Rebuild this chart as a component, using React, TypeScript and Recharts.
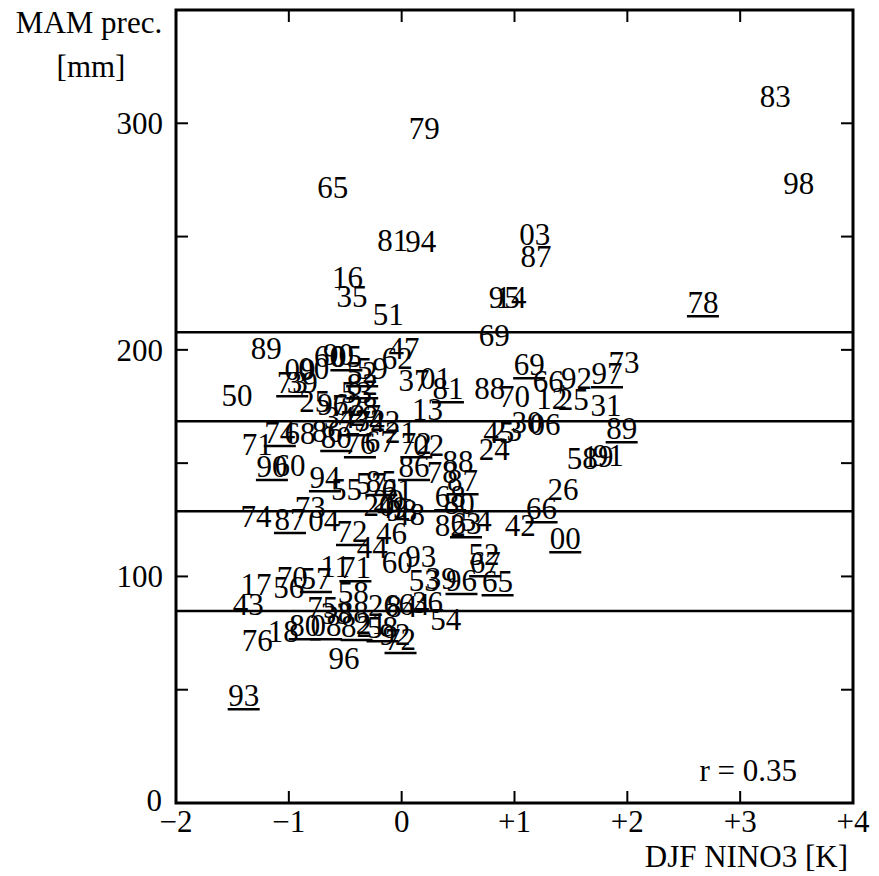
import { ScatterChart, Scatter, XAxis, YAxis, ReferenceLine, ReferenceArea } from "recharts"

document.body.style.margin = "0"

const FONT = "'Liberation Serif', 'Times New Roman', serif"

// year labels, DJF NINO3 anomaly [K], MAM precipitation [mm], underlined (19th century)
const YEARS = [
  "83", "98", "79", "65", "81", "94", "03", "87", "16", "35", "51", "95", "14", "78", "69", "89", "47", "62", "50", "69",
  "66", "92", "97", "73", "88", "70", "12", "25", "31", "37", "01", "81", "13", "89", "06", "30", "45", "23", "24", "58",
  "19", "91", "26", "66", "00", "42", "82", "63", "54", "52", "67", "65", "96", "53", "39", "60", "93", "54", "36", "64",
  "26", "84", "58", "92", "72", "82", "21", "18", "80", "76", "96", "93", "43", "17", "56", "70", "57", "11", "71", "58",
  "75", "33", "88", "08", "44", "46", "72", "74", "87", "73", "04", "55", "57", "94", "90", "60", "71", "74", "68", "86",
  "80", "76", "67", "21", "72", "02", "42", "32", "88", "78", "87", "68", "80", "86", "85", "61", "20", "49", "98", "48",
  "29", "09", "00", "60", "90", "05", "52", "59", "73", "39", "82", "53", "25", "96", "72", "78", "34", "77", "27",
]

const NINO3 = [
  3.31, 3.52, 0.2, -0.61, -0.08, 0.17, 1.18, 1.19, -0.48, -0.44, -0.12, 0.91, 0.97, 2.67, 0.82, -1.2, 0.02, -0.04, -1.46, 1.13,
  1.3, 1.55, 1.82, 1.97, 0.78, 1.0, 1.33, 1.52, 1.81, 0.11, 0.3, 0.41, 0.23, 1.95, 1.27, 1.11, 0.86, 0.93, 0.82, 1.6,
  1.74, 1.83, 1.43, 1.24, 1.45, 1.05, 0.43, 0.57, 0.66, 0.73, 0.74, 0.85, 0.53, 0.2, 0.35, -0.04, 0.17, 0.39, 0.23, 0.11,
  -0.16, 0.0, -0.17, -0.06, -0.01, -0.4, -0.27, -1.05, -0.86, -1.28, -0.51, -1.4, -1.36, -1.29, -1.0, -0.97, -0.76, -0.59, -0.41, -0.43,
  -0.7, -0.58, -0.43, -0.67, -0.26, -0.09, -0.44, -1.29, -0.99, -0.81, -0.69, -0.49, -0.27, -0.68, -1.15, -0.99, -1.28, -1.08, -0.9, -0.66,
  -0.58, -0.37, -0.19, -0.01, 0.13, 0.24, -0.15, -0.28, 0.5, 0.36, 0.54, 0.43, 0.51, 0.11, -0.18, -0.04, -0.2, -0.08, 0.0, 0.07,
  -0.12, -0.9, -0.78, -0.64, -0.56, -0.49, -0.35, -0.26, -0.97, -0.88, -0.35, -0.4, -0.77, -0.61, -0.48, -0.35, -0.55, -0.41, -0.32,
]

const PREC = [
  311.9, 273.5, 297.8, 271.8, 248.4, 247.9, 251.0, 241.3, 232.1, 223.7, 215.7, 223.2, 223.2, 221.0, 206.5, 200.7, 200.7, 196.3, 180.0, 193.7,
  186.2, 187.5, 189.7, 194.6, 183.1, 179.6, 178.7, 178.2, 175.6, 186.6, 187.5, 183.1, 174.0, 165.4, 167.2, 168.1, 163.7, 164.6, 156.2, 152.2,
  153.1, 153.5, 138.5, 130.1, 116.9, 122.6, 122.6, 123.5, 124.9, 109.9, 106.3, 97.9, 98.4, 98.4, 99.3, 106.3, 109.0, 81.2, 88.7, 87.8,
  87.4, 86.9, 77.6, 74.6, 72.4, 78.1, 79.4, 75.9, 78.5, 71.9, 64.0, 47.6, 87.8, 96.6, 95.3, 99.7, 99.3, 104.6, 104.1, 93.1,
  86.5, 83.8, 84.3, 78.5, 112.9, 119.1, 120.0, 126.6, 125.3, 130.6, 124.9, 138.5, 141.2, 143.8, 148.7, 149.1, 158.4, 163.7, 163.2, 164.1,
  161.5, 158.8, 159.7, 163.7, 158.8, 157.9, 168.5, 169.0, 150.9, 146.0, 142.5, 135.4, 132.4, 148.7, 142.1, 138.5, 131.5, 130.6, 129.3, 127.5,
  133.7, 191.5, 191.9, 197.2, 198.1, 197.2, 190.1, 191.9, 185.7, 185.7, 184.8, 181.3, 177.4, 176.0, 175.6, 174.7, 170.3, 168.5, 171.2,
]

const UNDERLINED = [
  13, 19, 22, 31, 33, 43, 44, 47, 50, 51, 52, 62, 64, 65, 68, 71, 76, 78, 83, 86,
  88, 93, 94, 97, 100, 101, 104, 110, 111, 113, 114, 125, 126, 128, 130, 135, 137,
]

const QUINTILES = [207.8, 168.5, 128.8, 84.7]
const X_TICKS = [-2, -1, 0, 1, 2, 3, 4]
const Y_TICKS = [0, 50, 100, 150, 200, 250, 300]
const Y_LABELED = [0, 100, 200, 300]
const X_DOMAIN = [-2, 4]
const Y_DOMAIN = [0, 350]

const points = YEARS.map((year, i) => ({
  year,
  nino3: NINO3[i],
  prec: PREC[i],
  under: UNDERLINED.includes(i),
}))

const W = 879
const H = 876
const M = { top: 10, right: 26, bottom: 73, left: 176 }
const GAP = 8
const TICK_LEN = 12

const fmtX = (v: number) => (v < 0 ? `\u2212${-v}` : v > 0 ? `+${v}` : "0")

function YearLabel(props: any) {
  const { cx, cy, payload } = props
  return (
    <g>
      <text x={cx} y={cy + 11} textAnchor="middle" fontSize={31} fontFamily={FONT} fill="#000">
        {payload.year}
      </text>
      {payload.under && (
        <line x1={cx - 16} x2={cx + 16} y1={cy + 14} y2={cy + 14} stroke="#000" strokeWidth={2.5} />
      )}
    </g>
  )
}

// bottom ticks also mirror an inward tick on the top frame
function BottomTick({ x, y, payload, index }: any) {
  const ay = y - GAP
  const inner = index > 0 && index < X_TICKS.length - 1
  return (
    <g>
      {inner && <line x1={x} x2={x} y1={ay} y2={ay - TICK_LEN} stroke="#000" strokeWidth={2} />}
      {inner && <line x1={x} x2={x} y1={M.top} y2={M.top + TICK_LEN} stroke="#000" strokeWidth={2} />}
      <text x={x} y={ay + 29} textAnchor="middle" fontSize={31} fontFamily={FONT} fill="#000">
        {fmtX(payload.value)}
      </text>
    </g>
  )
}

// left ticks also mirror an inward tick on the right frame
function LeftTick({ x, y, payload }: any) {
  const ax = x + GAP
  const right = W - M.right
  return (
    <g>
      {payload.value > 0 && (
        <>
          <line x1={ax} x2={ax + TICK_LEN} y1={y} y2={y} stroke="#000" strokeWidth={2} />
          <line x1={right} x2={right - TICK_LEN} y1={y} y2={y} stroke="#000" strokeWidth={2} />
        </>
      )}
      {Y_LABELED.includes(payload.value) && (
        <text
          x={payload.value === 0 ? ax - 14 : ax - 13}
          y={payload.value === 0 ? y + 8 : y + 11}
          textAnchor="end"
          fontSize={31}
          fontFamily={FONT}
          fill="#000"
        >
          {payload.value}
        </text>
      )}
    </g>
  )
}

export default function App() {
  return (
    <ScatterChart
      width={W}
      height={H}
      margin={{ top: M.top, right: M.right, bottom: 0, left: 0 }}
    >
      <XAxis
        type="number"
        dataKey="nino3"
        domain={X_DOMAIN}
        ticks={X_TICKS}
        interval={0}
        height={M.bottom}
        axisLine={false}
        tickLine={false}
        tickSize={0}
        tickMargin={GAP}
        tick={<BottomTick />}
        label={{
          content: ({ viewBox }: any) => (
            <g fontFamily={FONT} fontSize={31} fill="#000">
              <text x={viewBox.x + viewBox.width - 5} y={viewBox.y + 64} textAnchor="end">
                DJF NINO3 [K]
              </text>
              <text x={viewBox.x + viewBox.width - 56} y={viewBox.y - 22} textAnchor="end">
                r = 0.35
              </text>
            </g>
          ),
        }}
      />
      <YAxis
        type="number"
        dataKey="prec"
        domain={Y_DOMAIN}
        ticks={Y_TICKS}
        interval={0}
        width={M.left}
        axisLine={false}
        tickLine={false}
        tickSize={0}
        tickMargin={GAP}
        tick={<LeftTick />}
        label={{
          content: () => (
            <g fontFamily={FONT} fontSize={31} fill="#000">
              <text x={89} y={33} textAnchor="middle">
                MAM prec.
              </text>
              <text x={91} y={77} textAnchor="middle">
                [mm]
              </text>
            </g>
          ),
        }}
      />
      {QUINTILES.map((q) => (
        <ReferenceLine key={q} y={q} stroke="#000" strokeWidth={2.5} />
      ))}
      <ReferenceArea
        x1={X_DOMAIN[0]}
        x2={X_DOMAIN[1]}
        y1={Y_DOMAIN[0]}
        y2={Y_DOMAIN[1]}
        fill="none"
        fillOpacity={0}
        stroke="#000"
        strokeWidth={3}
        strokeOpacity={1}
      />
      <Scatter data={points} shape={<YearLabel />} isAnimationActive={false} />
    </ScatterChart>
  )
}
